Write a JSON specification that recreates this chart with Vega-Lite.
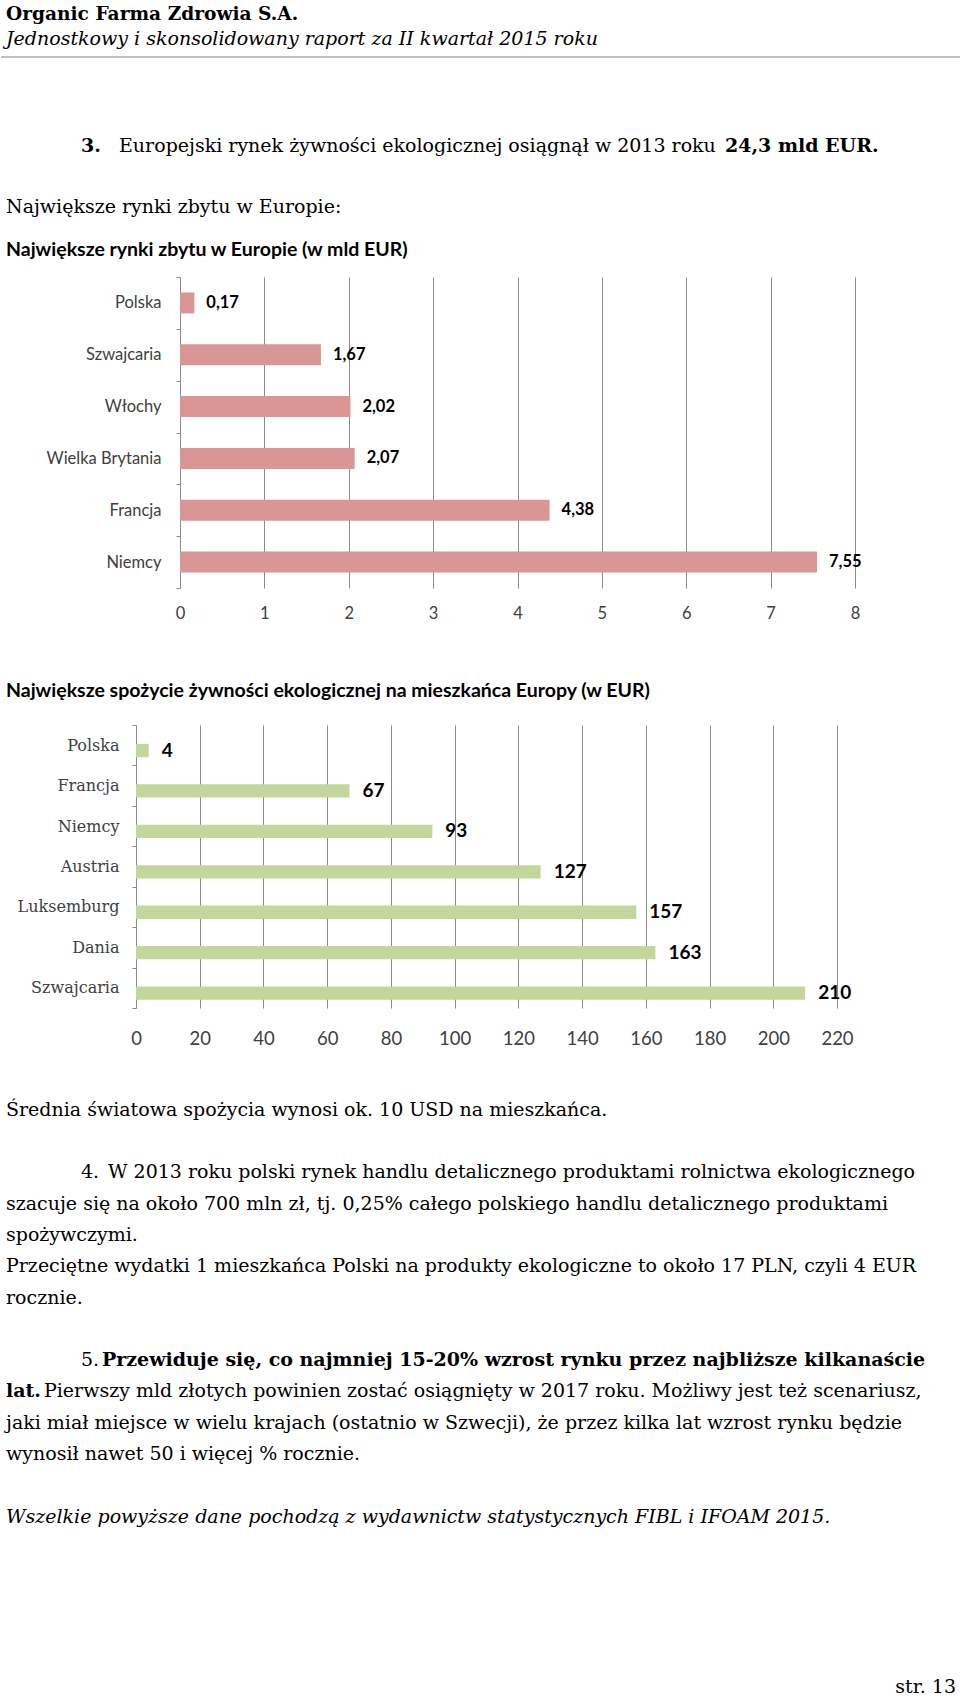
{
  "$schema": "https://vega.github.io/schema/vega-lite/v6.json",
  "padding": 0,
  "background": "white",
  "spacing": 0,
  "bounds": "flush",
  "config": {
    "locale": {"number": {"decimal": ",", "thousands": " ", "grouping": [3], "currency": ["", " zł"]}},
    "view": {"stroke": null}
  },
  "datasets": {
    "masthead": [
      {"line": 0, "role": "company", "text": "Organic Farma Zdrowia S.A."},
      {"line": 1, "role": "report", "text": "Jednostkowy i skonsolidowany raport za II kwartał 2015 roku"}
    ],
    "section": [
      {"line": 0, "role": "marker", "text": "3."},
      {"line": 0, "role": "heading", "text": "Europejski rynek żywności ekologicznej osiągnął w 2013 roku"},
      {"line": 0, "role": "heading-strong", "text": "24,3 mld EUR."},
      {"line": 2, "role": "body", "text": "Największe rynki zbytu w Europie:"}
    ],
    "rynki": [
      {"kraj": "Polska", "mld_eur": 0.17},
      {"kraj": "Szwajcaria", "mld_eur": 1.67},
      {"kraj": "Włochy", "mld_eur": 2.02},
      {"kraj": "Wielka Brytania", "mld_eur": 2.07},
      {"kraj": "Francja", "mld_eur": 4.38},
      {"kraj": "Niemcy", "mld_eur": 7.55}
    ],
    "spozycie": [
      {"kraj": "Polska", "eur": 4},
      {"kraj": "Francja", "eur": 67},
      {"kraj": "Niemcy", "eur": 93},
      {"kraj": "Austria", "eur": 127},
      {"kraj": "Luksemburg", "eur": 157},
      {"kraj": "Dania", "eur": 163},
      {"kraj": "Szwajcaria", "eur": 210}
    ],
    "body": [
      {"line": 0, "role": "body", "text": "Średnia światowa spożycia wynosi ok. 10 USD na mieszkańca."},
      {"line": 2, "role": "marker", "text": "4."},
      {"line": 2, "role": "item", "text": "W 2013 roku polski rynek handlu detalicznego produktami rolnictwa ekologicznego"},
      {"line": 3, "role": "body", "text": "szacuje się na około 700 mln zł, tj. 0,25% całego polskiego handlu detalicznego produktami"},
      {"line": 4, "role": "body", "text": "spożywczymi."},
      {"line": 5, "role": "body", "text": "Przeciętne wydatki 1 mieszkańca Polski na produkty ekologiczne to około 17 PLN, czyli 4 EUR"},
      {"line": 6, "role": "body", "text": "rocznie."},
      {"line": 8, "role": "marker", "text": "5."},
      {"line": 8, "role": "item-strong", "text": "Przewiduje się, co najmniej 15-20% wzrost rynku przez najbliższe kilkanaście"},
      {"line": 9, "role": "strong", "text": "lat."},
      {"line": 9, "role": "continuation", "text": "Pierwszy mld złotych powinien zostać osiągnięty w 2017 roku. Możliwy jest też scenariusz,"},
      {"line": 10, "role": "body", "text": "jaki miał miejsce w wielu krajach (ostatnio w Szwecji), że przez kilka lat wzrost rynku będzie"},
      {"line": 11, "role": "body", "text": "wynosił nawet 50 i więcej % rocznie."},
      {"line": 13, "role": "source", "text": "Wszelkie powyższe dane pochodzą z wydawnictw statystycznych FIBL i IFOAM 2015."},
      {"role": "folio", "text": "str. 13"}
    ]
  },
  "vconcat": [
    {
      "width": 960,
      "height": 57,
      "layer": [
        {
          "data": {"name": "masthead"},
          "encoding": {
            "x": {"datum": 0, "type": "quantitative", "scale": {"domain": [0, 1]}, "axis": null},
            "y": {"field": "line", "type": "quantitative", "scale": {"domain": [-0.8, 1.48], "reverse": true, "zero": false, "nice": false}, "axis": null},
            "text": {"field": "text"}
          },
          "layer": [
            {"transform": [{"filter": "datum.role === 'company'"}], "mark": {"type": "text", "align": "left", "baseline": "alphabetic", "dx": 5, "font": "DejaVu Serif", "fontSize": 18.6, "fontWeight": "bold", "color": "#000000"}},
            {"transform": [{"filter": "datum.role === 'report'"}], "mark": {"type": "text", "align": "left", "baseline": "alphabetic", "dx": 5, "font": "DejaVu Serif", "fontSize": 19, "fontStyle": "italic", "color": "#000000"}}
          ]
        },
        {
          "data": {"values": [{}]},
          "mark": {"type": "rule", "color": "#c0c0c0", "strokeWidth": 2},
          "encoding": {"y": {"value": "height"}}
        }
      ]
    },
    {
      "width": 960,
      "height": 220,
      "data": {"name": "section"},
      "encoding": {
        "x": {"datum": 0, "type": "quantitative", "scale": {"domain": [0, 1]}, "axis": null},
        "y": {"field": "line", "type": "quantitative", "scale": {"domain": [-3.115, 4.098], "reverse": true, "zero": false, "nice": false}, "axis": null},
        "text": {"field": "text"}
      },
      "layer": [
        {"transform": [{"filter": "datum.role === 'marker'"}], "mark": {"type": "text", "align": "left", "baseline": "alphabetic", "dx": 80, "font": "DejaVu Serif", "fontSize": 19, "fontWeight": "bold", "color": "#000000"}},
        {"transform": [{"filter": "datum.role === 'heading'"}], "mark": {"type": "text", "align": "left", "baseline": "alphabetic", "dx": 118, "font": "DejaVu Serif", "fontSize": 19, "color": "#000000"}},
        {"transform": [{"filter": "datum.role === 'heading-strong'"}], "mark": {"type": "text", "align": "left", "baseline": "alphabetic", "dx": 724, "font": "DejaVu Serif", "fontSize": 19, "fontWeight": "bold", "color": "#000000"}},
        {"transform": [{"filter": "datum.role === 'body'"}], "mark": {"type": "text", "align": "left", "baseline": "alphabetic", "dx": 5, "font": "DejaVu Serif", "fontSize": 19, "color": "#000000"}}
      ]
    },
    {
      "width": 854,
      "height": 311,
      "title": {"text": "Największe rynki zbytu w Europie (w mld EUR)", "anchor": "start", "frame": "group", "dx": 5, "offset": -6.3, "baseline": "alphabetic", "font": "Lato", "fontSize": 19.5, "fontWeight": "bold", "color": "#000000"},
      "data": {"name": "rynki"},
      "encoding": {
        "y": {
          "field": "kraj", "type": "nominal", "sort": null,
          "scale": {"paddingInner": 0, "paddingOuter": 0},
          "axis": {"title": null, "offset": -179, "tickBand": "extent", "domainColor": "#8c8c8c", "tickColor": "#8c8c8c", "tickSize": 4, "labelPadding": 15, "labelFont": "Lato", "labelFontSize": 16.5, "labelColor": "#404040", "grid": false}
        },
        "x": {
          "field": "mld_eur", "type": "quantitative",
          "scale": {"domain": [-2.1215, 8], "nice": false, "zero": false},
          "axis": {"title": null, "values": [0, 1, 2, 3, 4, 5, 6, 7, 8], "format": "d", "grid": true, "gridColor": "#8c8c8c", "gridWidth": 1, "ticks": false, "domain": false, "labelFont": "Lato", "labelFontSize": 16.5, "labelColor": "#404040", "labelPadding": 17, "labelFlush": false, "labelOverlap": false}
        }
      },
      "layer": [
        {"mark": {"type": "bar", "color": "#D99694", "height": {"band": 0.405}}},
        {"mark": {"type": "text", "align": "left", "baseline": "middle", "dx": 12, "font": "Lato", "fontSize": 16.5, "fontWeight": "bold", "color": "#000000"}, "encoding": {"text": {"field": "mld_eur", "type": "quantitative", "format": ".2f"}}},
        {"data": {"values": [{}]}, "mark": {"type": "rule", "color": "#d4d4d4", "strokeWidth": 1}, "encoding": {"x": {"datum": 0, "type": "quantitative"}, "x2": {"datum": 8}, "y": {"value": "height"}}}
      ]
    },
    {
      "width": 960,
      "height": 137,
      "data": {"values": []},
      "mark": "point"
    },
    {
      "width": 836,
      "height": 283,
      "title": {"text": "Największe spożycie żywności ekologicznej na mieszkańca Europy (w EUR)", "anchor": "start", "frame": "group", "dx": 5, "offset": 0.7, "baseline": "alphabetic", "font": "Lato", "fontSize": 19.5, "fontWeight": "bold", "color": "#000000"},
      "data": {"name": "spozycie"},
      "encoding": {
        "y": {
          "field": "kraj", "type": "nominal", "sort": null,
          "scale": {"paddingInner": 0, "paddingOuter": 0},
          "axis": {"title": null, "offset": -135, "tickBand": "extent", "domainColor": "#8c8c8c", "tickColor": "#8c8c8c", "tickSize": 4, "labelPadding": 13, "labelFont": "DejaVu Serif", "labelFontSize": 16, "labelColor": "#404040", "grid": false}
        },
        "x": {
          "field": "eur", "type": "quantitative",
          "scale": {"domain": [-42.368, 220], "nice": false, "zero": false},
          "axis": {"title": null, "values": [0, 20, 40, 60, 80, 100, 120, 140, 160, 180, 200, 220], "format": "d", "grid": true, "gridColor": "#8c8c8c", "gridWidth": 1, "ticks": false, "domain": false, "labelFont": "Lato", "labelFontSize": 18.5, "labelColor": "#404040", "labelPadding": 21, "labelFlush": false, "labelOverlap": false}
        }
      },
      "layer": [
        {"mark": {"type": "bar", "color": "#C3D69B", "height": {"band": 0.33}, "yOffset": 5.3}},
        {"mark": {"type": "text", "align": "left", "baseline": "middle", "dx": 13, "yOffset": 5.3, "font": "Lato", "fontSize": 19, "fontWeight": "bold", "color": "#000000"}, "encoding": {"text": {"field": "eur", "type": "quantitative", "format": "d"}}},
        {"data": {"values": [{}]}, "mark": {"type": "rule", "color": "#d4d4d4", "strokeWidth": 1}, "encoding": {"x": {"datum": 0, "type": "quantitative"}, "x2": {"datum": 220}, "y": {"value": "height"}}}
      ]
    },
    {
      "width": 960,
      "height": 685,
      "data": {"name": "body"},
      "layer": [
        {
          "encoding": {
            "x": {"datum": 0, "type": "quantitative", "scale": {"domain": [0, 1]}, "axis": null},
            "y": {"field": "line", "type": "quantitative", "scale": {"domain": [-3.441, 18.444], "reverse": true, "zero": false, "nice": false}, "axis": null},
            "text": {"field": "text"}
          },
          "layer": [
            {"transform": [{"filter": "datum.role === 'body'"}], "mark": {"type": "text", "align": "left", "baseline": "alphabetic", "dx": 5, "font": "DejaVu Serif", "fontSize": 19, "color": "#000000"}},
            {"transform": [{"filter": "datum.role === 'marker'"}], "mark": {"type": "text", "align": "left", "baseline": "alphabetic", "dx": 80, "font": "DejaVu Serif", "fontSize": 19, "color": "#000000"}},
            {"transform": [{"filter": "datum.role === 'item'"}], "mark": {"type": "text", "align": "left", "baseline": "alphabetic", "dx": 107, "font": "DejaVu Serif", "fontSize": 19, "color": "#000000"}},
            {"transform": [{"filter": "datum.role === 'item-strong'"}], "mark": {"type": "text", "align": "left", "baseline": "alphabetic", "dx": 101, "font": "DejaVu Serif", "fontSize": 19, "fontWeight": "bold", "color": "#000000"}},
            {"transform": [{"filter": "datum.role === 'strong'"}], "mark": {"type": "text", "align": "left", "baseline": "alphabetic", "dx": 5, "font": "DejaVu Serif", "fontSize": 19, "fontWeight": "bold", "color": "#000000"}},
            {"transform": [{"filter": "datum.role === 'continuation'"}], "mark": {"type": "text", "align": "left", "baseline": "alphabetic", "dx": 43, "font": "DejaVu Serif", "fontSize": 19, "color": "#000000"}},
            {"transform": [{"filter": "datum.role === 'source'"}], "mark": {"type": "text", "align": "left", "baseline": "alphabetic", "dx": 5, "font": "DejaVu Serif", "fontSize": 19, "fontStyle": "italic", "color": "#000000"}}
          ]
        },
        {
          "transform": [{"filter": "datum.role === 'folio'"}],
          "mark": {"type": "text", "align": "right", "baseline": "alphabetic", "dx": -5, "font": "DejaVu Serif", "fontSize": 19, "color": "#000000"},
          "encoding": {"x": {"value": "width"}, "y": {"value": "height"}, "text": {"field": "text"}}
        }
      ]
    }
  ]
}
